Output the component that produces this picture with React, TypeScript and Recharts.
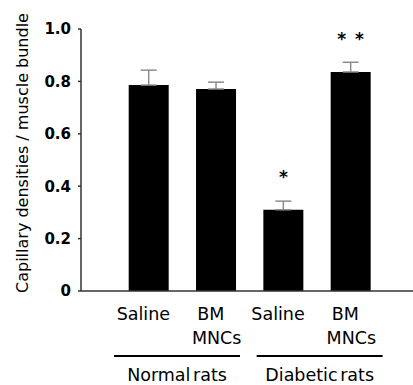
import { BarChart, Bar, XAxis, YAxis, ErrorBar, LabelList } from 'recharts';

const categories = ['Saline', 'BM\nMNCs', 'Saline', 'BM\nMNCs'];
const groups = ['Normal rats', 'Diabetic rats'];
const values = [0.786, 0.771, 0.31, 0.836];
const errors = [0.057, 0.026, 0.033, 0.037];
const marks = ['', '', '*', '* *'];
const yTicks = [0, 0.2, 0.4, 0.6, 0.8, 1.0];

const data = categories.map((name, i) => ({
  name,
  value: values[i],
  err: [0, errors[i]],
  sig: marks[i],
}));

const FONT = '"DejaVu Sans", sans-serif';
const W = 413;
const H = 385;
const AXIS_W = 81;
const X_AXIS_H = 30;
const PAD_L = 33.7;
const PAD_R = 29;
const BAND = (W - AXIS_W - PAD_L - PAD_R) / categories.length;

const XTick = (props: any) => {
  const { x, y, payload, index } = props;
  const lines: string[] = String(payload.value).split('\n');
  const isGroupStart = index % 2 === 0;
  const gc = x + BAND / 2 + (index === 0 ? -5 : 3);
  return (
    <g>
      {lines.map((l, i) => (
        <text
          key={i}
          x={x}
          y={y + 29 + i * 23.5}
          dx={i === 0 ? -5 : 1}
          textAnchor="middle"
          fontFamily={FONT}
          fontSize={17.5}
          fill="#000"
        >
          {l}
        </text>
      ))}
      {isGroupStart && (
        <g>
          <line x1={gc - 63} x2={gc + 63} y1={y + 65} y2={y + 65} stroke="#000" strokeWidth={2} />
          <text
            x={gc}
            y={y + 90}
            textAnchor="middle"
            fontFamily={FONT}
            fontSize={17.5}
            wordSpacing={-3}
            fill="#000"
          >
            {groups[index / 2]}
          </text>
        </g>
      )}
    </g>
  );
};

export default function App() {
  return (
    <div style={{ position: 'absolute', left: 0, top: 0 }}>
      <BarChart
        width={W}
        height={H}
        data={data}
        margin={{ top: 29, right: 0, bottom: 94 - X_AXIS_H, left: 0 }}
      >
        <XAxis
          dataKey="name"
          height={X_AXIS_H}
          tickLine={false}
          tickSize={0}
          tickMargin={0}
          interval={0}
          padding={{ left: PAD_L, right: PAD_R }}
          axisLine={{ stroke: '#333', strokeWidth: 1.5 }}
          tick={<XTick />}
        />
        <YAxis
          width={AXIS_W}
          domain={[0, 1]}
          ticks={yTicks}
          tickFormatter={(v: number) => (v === 0 ? '0' : v.toFixed(1))}
          tickSize={3}
          tickMargin={7}
          axisLine={{ stroke: '#333', strokeWidth: 1.5 }}
          tickLine={{ stroke: '#333', strokeWidth: 1.5 }}
          tick={{ fontFamily: FONT, fontSize: 15, fontWeight: 'bold', fill: '#000' }}
          label={{
            content: () => (
              <text
                x={22}
                y={153}
                transform="rotate(-90 22 153)"
                textAnchor="middle"
                dominantBaseline="central"
                fontFamily={FONT}
                fontSize={16}
                fill="#000"
              >
                Capillary densities / muscle bundle
              </text>
            ),
          }}
        />
        <Bar dataKey="value" fill="#000" barSize={40} isAnimationActive={false}>
          <ErrorBar dataKey="err" width={8} stroke="#8c8c8c" strokeWidth={1.5} isAnimationActive={false} />
          <LabelList
            dataKey="sig"
            position="top"
            offset={27}
            fontFamily={FONT}
            fontSize={17}
            fontWeight="bold"
            fill="#000"
            wordSpacing={3}
          />
        </Bar>
      </BarChart>
    </div>
  );
}
